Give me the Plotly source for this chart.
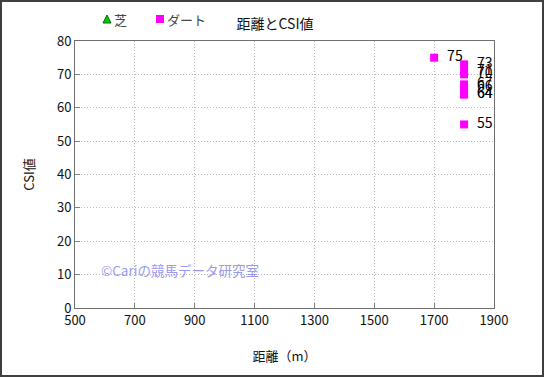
import plotly.graph_objects as go

# Data
turf_dist = []
turf_csi = []
dirt_dist = [1700, 1800, 1800, 1800, 1800, 1800, 1800, 1800, 1800]
dirt_csi = [75, 73, 71, 70, 67, 66, 64, 64, 55]
x_ticks = [500, 700, 900, 1100, 1300, 1500, 1700, 1900]
y_ticks = [0, 10, 20, 30, 40, 50, 60, 70, 80]
series_names = ["芝", "ダート"]

W, H = 545, 377
L, R, T, B = 75, 51, 41, 69
pw, ph = W - L - R, H - T - B

def px(xp):
    return (xp - L) / pw

def py(yp):
    return (H - B - yp) / ph

font = "Noto Sans CJK JP"
grid = dict(showgrid=True, gridcolor="#b8b8b8", griddash="1px,2px", gridwidth=1)

fig = go.Figure()
fig.add_trace(go.Scatter(
    x=turf_dist, y=turf_csi, mode="markers", name=series_names[0], showlegend=False,
    marker=dict(symbol="triangle-up", size=9, color="#00cc00",
                line=dict(color="#006600", width=1)),
))
fig.add_trace(go.Scatter(
    x=dirt_dist, y=dirt_csi, mode="markers+text", name=series_names[1], showlegend=False,
    text=["\u2002" + str(v) for v in dirt_csi], textposition="middle right",
    textfont=dict(family=font, size=14, color="#000000"),
    marker=dict(symbol="square", size=8, color="#ff00ff"),
))

fig.update_layout(
    width=W, height=H,
    margin=dict(l=L, r=R, t=T, b=B),
    paper_bgcolor="white", plot_bgcolor="white",
    font=dict(family=font, size=13, color="#111111"),
    showlegend=False,
    title=dict(text="距離とCSI値", x=px(275), xref="paper", xanchor="center",
               y=1 - 24 / H, yanchor="middle",
               font=dict(family=font, size=14, color="#111111")),
    xaxis=dict(range=[500, 1900], tickvals=x_ticks, ticks="inside", ticklen=5,
               tickcolor="#808080", showline=True, linecolor="#707070", mirror=True,
               zeroline=False, **grid,
               title=dict(text="距離（m）", font=dict(size=13), standoff=24),
               tickfont=dict(size=13)),
    yaxis=dict(range=[0, 80], tickvals=y_ticks, ticks="inside", ticklen=5,
               tickcolor="#808080", showline=True, linecolor="#707070", mirror=True,
               zeroline=False, **grid,
               title=dict(text="CSI値", font=dict(size=13), standoff=19),
               tickfont=dict(size=13)),
)

# legend (drawn manually to match compact spacing)
fig.add_shape(type="path", xref="paper", yref="paper", xsizemode="pixel", ysizemode="pixel",
              xanchor=px(107), yanchor=py(19), path="M-4,-4 L4,-4 L0,4 Z",
              fillcolor="#00cc00", line=dict(color="#006600", width=1))
fig.add_annotation(text=series_names[0], xref="paper", yref="paper", x=px(112), y=py(19),
                   xanchor="left", yanchor="middle", showarrow=False,
                   font=dict(size=13, color="#444444"))
fig.add_shape(type="rect", xref="paper", yref="paper", xsizemode="pixel", ysizemode="pixel",
              xanchor=px(160), yanchor=py(19), x0=-4, x1=4, y0=-4, y1=4,
              fillcolor="#ff00ff", line=dict(width=0))
fig.add_annotation(text=series_names[1], xref="paper", yref="paper", x=px(165), y=py(19),
                   xanchor="left", yanchor="middle", showarrow=False,
                   font=dict(size=13, color="#444444"))

fig.add_annotation(text="©Cariの競馬データ研究室", xref="paper", yref="paper",
                   x=px(99), y=py(270), xanchor="left", yanchor="middle",
                   showarrow=False, font=dict(family=font, size=13.5, color="#9999ee"))

fig.add_shape(type="rect", xref="paper", yref="paper",
              x0=px(1), x1=px(543), y0=py(376), y1=py(1),
              line=dict(color="#404040", width=2), fillcolor="rgba(0,0,0,0)", layer="above")

fig.write_html("out.html", config={"displayModeBar": False},
               post_script="document.body.style.margin='0';document.body.style.overflow='hidden';")
